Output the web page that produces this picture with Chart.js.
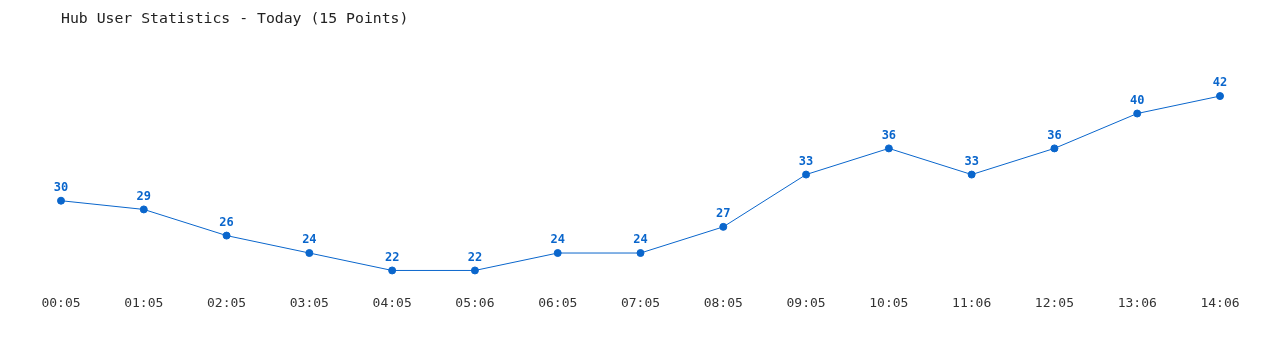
<!DOCTYPE html>
<html>
<head>
<meta charset="utf-8">
<script src="https://cdn.jsdelivr.net/npm/chart.js"></script>
<style>
    html, body { margin: 0; padding: 0; background: #ffffff; }
    #wrap { width: 1280px; height: 350px; }
</style>
</head>
<body>
<div id="wrap"><canvas id="chart"></canvas></div>
<script>
// data
const times = ["00:05", "01:05", "02:05", "03:05", "04:05", "05:06", "06:05", "07:05",
    "08:05", "09:05", "10:05", "11:06", "12:05", "13:06", "14:06"];
const users = [30, 29, 26, 24, 22, 22, 24, 24, 27, 33, 36, 33, 36, 40, 42];

const lineColor = '#0a66cc';
const monoFont = '"DejaVu Sans Mono", "Liberation Mono", monospace';

// draws the value above each point
const valueLabels = {
    id: 'valueLabels',
    afterDatasetsDraw(chart) {
        const ctx = chart.ctx;
        const meta = chart.getDatasetMeta(0);
        ctx.save();
        ctx.font = 'bold 12px ' + monoFont;
        ctx.fillStyle = lineColor;
        ctx.textAlign = 'center';
        ctx.textBaseline = 'middle';
        meta.data.forEach((pt, i) => {
            ctx.fillText(String(users[i]), pt.x, pt.y - 13);
        });
        ctx.restore();
    }
};

const ctx = document.getElementById("chart").getContext("2d");
const chart = new Chart(ctx, {
    type: "line",
    data: {
        labels: times,
        datasets: [
            {
                label: "Users",
                data: users,
                borderColor: lineColor,
                backgroundColor: lineColor,
                borderWidth: 1,
                pointRadius: 3.5,
                pointHoverRadius: 3.5,
                tension: 0,
                fill: false,
            },
        ],
    },
    options: {
        responsive: true,
        maintainAspectRatio: false,
        animation: false,
        layout: {
            padding: { left: 61, right: 60, top: 0, bottom: 38.5 }
        },
        plugins: {
            legend: { display: false },
            tooltip: { enabled: false },
            title: {
                display: true,
                text: "Hub User Statistics - Today (15 Points)",
                align: 'start',
                color: '#222222',
                font: { family: monoFont, size: 14.8, weight: 'normal' },
                padding: { top: 10, bottom: 16 }
            }
        },
        scales: {
            x: {
                offset: false,
                grid: { display: false },
                border: { display: false },
                ticks: {
                    color: '#333333',
                    font: { family: monoFont, size: 13 },
                    maxRotation: 0,
                    autoSkip: false,
                    padding: 0
                }
            },
            y: {
                display: false,
                min: 20,
                max: 48
            },
        },
    },
    plugins: [valueLabels]
});
</script>
</body>
</html>
